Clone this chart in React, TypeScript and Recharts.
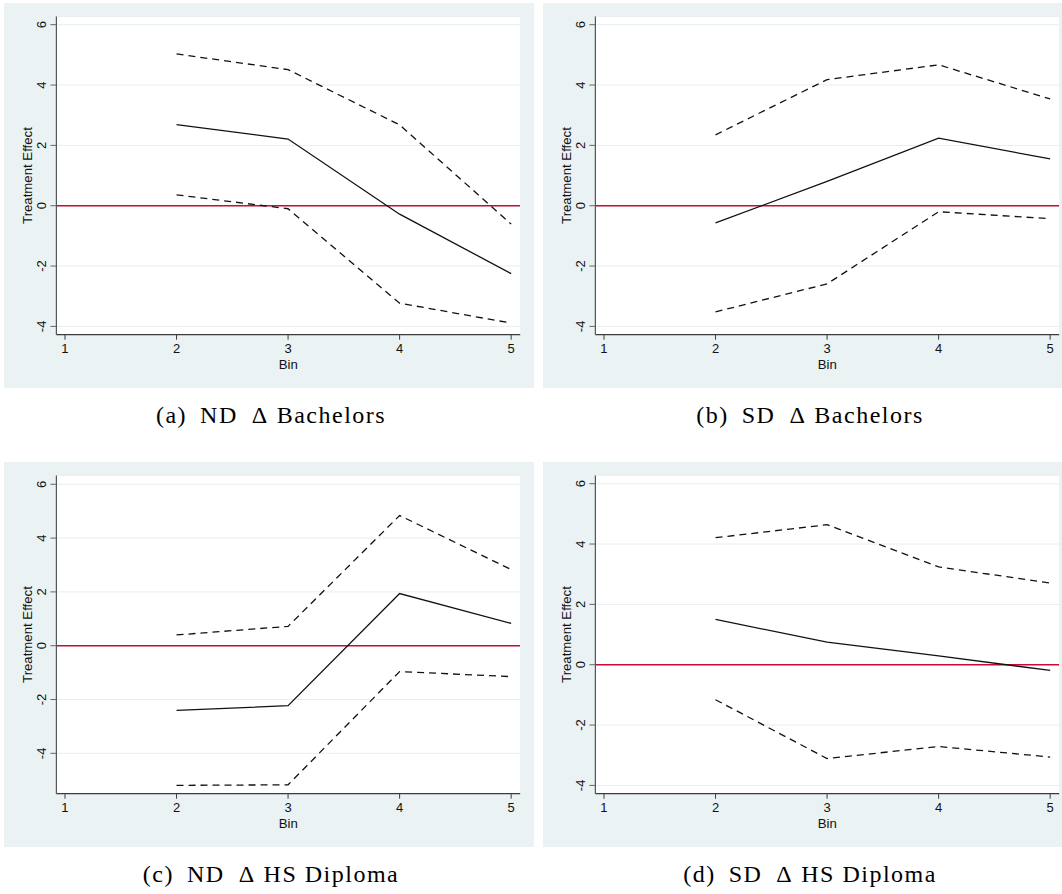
import React from 'react';
import { LineChart, Line, XAxis, YAxis, CartesianGrid, ReferenceLine, Label } from 'recharts';

// ---------- data ----------
const bins = [2, 3, 4, 5];
const xTicks = [1, 2, 3, 4, 5];
const yTicks = [-4, -2, 0, 2, 4, 6];

const ndBachEst = [2.69, 2.21, -0.28, -2.25];
const ndBachUpper = [5.03, 4.51, 2.68, -0.61];
const ndBachLower = [0.36, -0.1, -3.23, -3.89];

const sdBachEst = [-0.57, 0.81, 2.24, 1.55];
const sdBachUpper = [2.35, 4.18, 4.67, 3.54];
const sdBachLower = [-3.52, -2.59, -0.2, -0.43];

const ndHsEst = [-2.4, -2.23, 1.94, 0.83];
const ndHsUpper = [0.4, 0.72, 4.84, 2.83];
const ndHsLower = [-5.19, -5.17, -0.96, -1.15];

const sdHsEst = [1.5, 0.75, 0.29, -0.19];
const sdHsUpper = [4.21, 4.64, 3.24, 2.71];
const sdHsLower = [-1.16, -3.11, -2.71, -3.06];

const captionLetters = ['(a)', '(b)', '(c)', '(d)'];
const captionGroups = ['ND', 'SD', 'ND', 'SD'];
const captionOutcomes = ['Bachelors', 'Bachelors', 'HS Diploma', 'HS Diploma'];

const xTitle = 'Bin';
const yTitle = 'Treatment Effect';

// ---------- style ----------
const BG = '#eaf2f3';
const GRID = '#e5eef0';
const AXIS = '#3c3c3c';
const RED = '#cc0a36';
const LINE = '#111111';
const SANS = '"Liberation Sans", Arial, Helvetica, sans-serif';
const SERIF = '"Liberation Serif", "Times New Roman", serif';

const PANEL_W = 529.5;
const PANEL_H = 385;
const Y_AXIS_W = 52.4;
const X_AXIS_H = 53.3;
const MARGIN = { top: 13.4, right: 13.3, bottom: 0, left: 0 };

const buildRows = (est: number[], upper: number[], lower: number[]) =>
  bins.map((b, i) => ({ bin: b, est: est[i], upper: upper[i], lower: lower[i] }));

const XTick = (props: any) => {
  const { x, y, payload } = props;
  return (
    <text x={x} y={y + 13.3} textAnchor="middle" fontSize={13} fontFamily={SANS} fill="#111">
      {payload.value}
    </text>
  );
};

const YTick = (props: any) => {
  const { x, y, payload } = props;
  const cx = x - 9;
  return (
    <text
      x={cx}
      y={y}
      textAnchor="middle"
      dominantBaseline="central"
      fontSize={13}
      fontFamily={SANS}
      fill="#111"
      transform={`rotate(-90, ${cx}, ${y})`}
    >
      {payload.value}
    </text>
  );
};

const YTitle = (props: any) => {
  const vb = props.viewBox || { x: 0, y: MARGIN.top, width: Y_AXIS_W, height: 318 };
  const cx = vb.x + 23.2;
  const cy = vb.y + vb.height / 2;
  return (
    <text
      x={cx}
      y={cy}
      textAnchor="middle"
      dominantBaseline="central"
      fontSize={13.2}
      fontFamily={SANS}
      fill="#111"
      transform={`rotate(-90, ${cx}, ${cy})`}
    >
      {yTitle}
    </text>
  );
};

const XTitle = (props: any) => {
  const vb = props.viewBox || { x: Y_AXIS_W, y: 331.7, width: 463, height: X_AXIS_H };
  return (
    <text x={vb.x + vb.width / 2} y={vb.y + 34.3} textAnchor="middle" fontSize={13.2} fontFamily={SANS} fill="#111">
      {xTitle}
    </text>
  );
};

type PanelProps = {
  left: number;
  top: number;
  rows: any[];
  yDomain: [number, number];
};

const Panel = ({ left, top, rows, yDomain }: PanelProps) => (
  <div style={{ position: 'absolute', left, top, width: PANEL_W, height: PANEL_H, background: BG }}>
    <LineChart width={PANEL_W} height={PANEL_H} data={rows} margin={MARGIN}>
      <CartesianGrid fill="#ffffff" vertical={false} stroke={GRID} strokeWidth={1} />
      <XAxis
        type="number"
        dataKey="bin"
        domain={[0.923, 5.081]}
        ticks={xTicks}
        allowDataOverflow
        interval={0}
        height={X_AXIS_H}
        tickSize={5}
        tickMargin={0}
        tick={<XTick />}
        tickLine={{ stroke: AXIS, strokeWidth: 1 }}
        axisLine={{ stroke: AXIS, strokeWidth: 1.2 }}
      >
        <Label content={<XTitle />} />
      </XAxis>
      <YAxis
        type="number"
        domain={yDomain}
        ticks={yTicks}
        allowDataOverflow
        interval={0}
        width={Y_AXIS_W}
        tickSize={6}
        tickMargin={0}
        tick={<YTick />}
        tickLine={{ stroke: '#666', strokeWidth: 1 }}
        axisLine={{ stroke: '#555', strokeWidth: 1.2 }}
      >
        <Label content={<YTitle />} />
      </YAxis>
      <ReferenceLine y={0} stroke={RED} strokeWidth={1.4} ifOverflow="hidden" />
      <Line type="linear" dataKey="upper" stroke={LINE} strokeWidth={1.3} strokeDasharray="7 5" dot={false} activeDot={false} isAnimationActive={false} />
      <Line type="linear" dataKey="est" stroke={LINE} strokeWidth={1.3} dot={false} activeDot={false} isAnimationActive={false} />
      <Line type="linear" dataKey="lower" stroke={LINE} strokeWidth={1.3} strokeDasharray="7 5" dot={false} activeDot={false} isAnimationActive={false} />
    </LineChart>
  </div>
);

const panelLefts = [4.3, 543.3, 4.3, 543.3];
const panelTops = [3.3, 3.3, 461.7, 461.7];
const captionBaselines = [423.3, 423.3, 881.7, 881.7];

export default function App() {
  const rowsList = [
    buildRows(ndBachEst, ndBachUpper, ndBachLower),
    buildRows(sdBachEst, sdBachUpper, sdBachLower),
    buildRows(ndHsEst, ndHsUpper, ndHsLower),
    buildRows(sdHsEst, sdHsUpper, sdHsLower),
  ];
  const domains: [number, number][] = [
    [-4.275, 6.275],
    [-4.275, 6.275],
    [-5.5, 6.33],
    [-4.275, 6.275],
  ];
  return (
    <div
      style={{
        position: 'absolute',
        left: 0,
        top: 0,
        width: 1062,
        height: 894,
        overflow: 'hidden',
        background: '#ffffff',
      }}
    >
      {rowsList.map((rows, i) => (
        <Panel key={i} left={panelLefts[i]} top={panelTops[i]} rows={rows} yDomain={domains[i]} />
      ))}
      <svg width={1062} height={894} style={{ position: 'absolute', left: 0, top: 0, pointerEvents: 'none' }}>
        {captionLetters.map((letter, i) => (
          <text
            key={i}
            x={panelLefts[i] + PANEL_W / 2 + 2}
            y={captionBaselines[i]}
            textAnchor="middle"
            fontFamily={SERIF}
            fontSize={24}
            letterSpacing={1.5}
            fill="#000"
          >
            <tspan>{letter}</tspan>
            <tspan dx={13}>{captionGroups[i]}</tspan>
            <tspan dx={14}>Δ</tspan>
            <tspan dx={8}>{captionOutcomes[i]}</tspan>
          </text>
        ))}
      </svg>
    </div>
  );
}
